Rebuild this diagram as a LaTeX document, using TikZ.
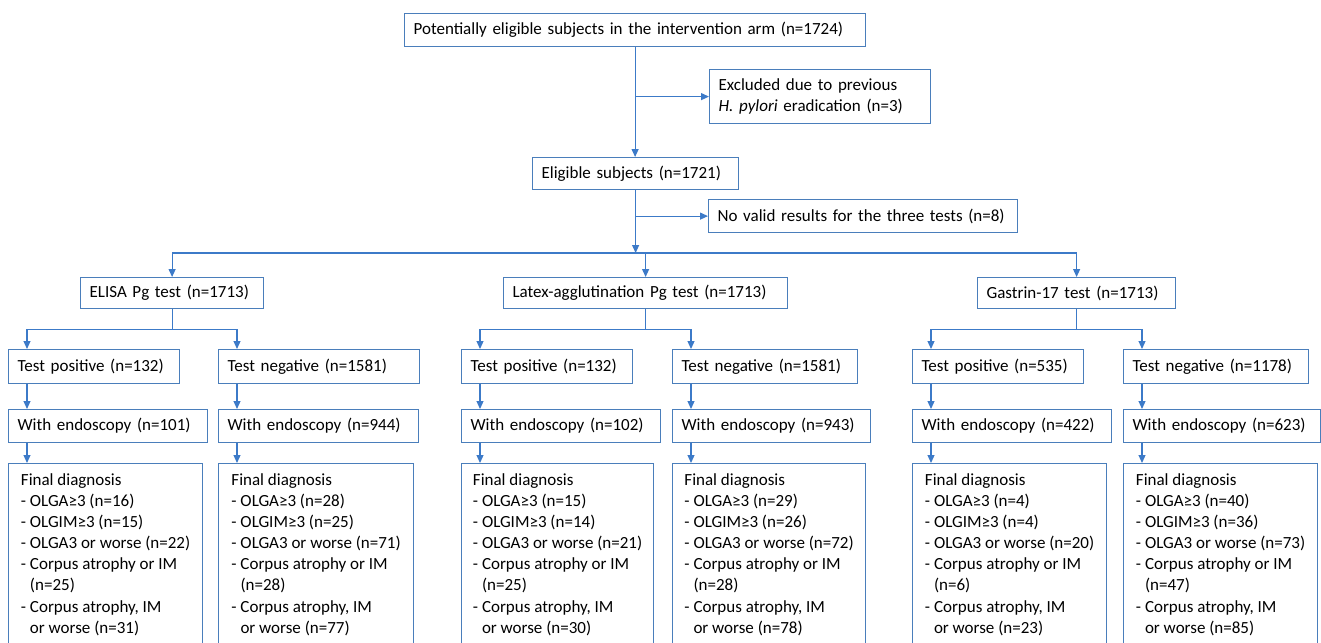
\documentclass[tikz,border=0pt]{standalone}
\usepackage{fontspec}
\setmainfont{Carlito}
\usetikzlibrary{arrows.meta}
\definecolor{boxcol}{RGB}{74,126,187}
\definecolor{linecol}{RGB}{60,122,200}
% text of the final diagnosis boxes
\newcommand{\finaldiag}[5]{Final diagnosis\\- OLGA≥3 (n=#1)\\- OLGIM≥3 (n=#2)\\- OLGA3 or worse (n=#3)\\- Corpus atrophy or IM\\\hphantom{- }(n=#4)\\- Corpus atrophy, IM\\\hphantom{- }or worse (n=#5)}
\begin{document}
\begin{tikzpicture}[x=1pt, y=-1pt,
  frame/.style={draw=boxcol, line width=1.2pt, anchor=north west, align=left,
    font=\fontsize{17}{21.1}\selectfont},
  box/.style={frame, inner xsep=9pt, inner ysep=0pt, text width=#1},
  dxbox/.style={frame, inner xsep=0pt, inner ysep=10pt, minimum width=#1},
  line/.style={draw=linecol, line width=1.2pt},
  arrow/.style={line, -{Triangle[length=8pt,width=7pt]}},
]
  \useasboundingbox (0,0) rectangle (1321,642);
  \clip (0,0) rectangle (1321,642);

  % enrolment
  \node[box=443pt, minimum height=33pt] (top) at (404,13) {Potentially eligible subjects in the intervention arm (n=1724)};
  \node[box=203pt, minimum height=54pt] (excl) at (709,69) {Excluded due to previous\\\textit{H. pylori} eradication (n=3)};
  \node[box=188pt, minimum height=32pt] (elig) at (532,157) {Eligible subjects (n=1721)};
  \node[box=291pt, minimum height=33pt] (novalid) at (708,199) {No valid results for the three tests (n=8)};

  % the three tests
  \node[box=165pt, minimum height=31pt] (elisa) at (80,277) {ELISA Pg test (n=1713)};
  \node[box=266pt, minimum height=31pt] (latex) at (503,277) {Latex-agglutination Pg test (n=1713)};
  \node[box=180pt, minimum height=31pt] (gastrin) at (977,277) {Gastrin-17 test (n=1713)};

  % ELISA column
  \node[box=153pt, minimum height=34pt] (elisaPos) at (8,349) {Test positive (n=132)};
  \node[box=183pt, minimum height=34pt] (elisaNeg) at (218,349) {Test negative (n=1581)};
  \node[box=181pt, minimum height=33pt] (elisaPos-endo) at (8,409) {With endoscopy (n=101)};
  \node[box=182pt, minimum height=33pt] (elisaNeg-endo) at (218,409) {With endoscopy (n=944)};
  \node[dxbox=194pt] (elisaPos-dx) at (8,463) {\finaldiag{16}{15}{22}{25}{31}};
  \node[dxbox=195pt] (elisaNeg-dx) at (218,463) {\finaldiag{28}{25}{71}{28}{77}};

  % latex-agglutination column
  \node[box=153pt, minimum height=34pt] (latexPos) at (461,349) {Test positive (n=132)};
  \node[box=167pt, minimum height=34pt] (latexNeg) at (672,349) {Test negative (n=1581)};
  \node[box=181pt, minimum height=33pt] (latexPos-endo) at (461,409) {With endoscopy (n=102)};
  \node[box=180pt, minimum height=33pt] (latexNeg-endo) at (672,409) {With endoscopy (n=943)};
  \node[dxbox=192pt] (latexPos-dx) at (461,463) {\finaldiag{15}{14}{21}{25}{30}};
  \node[dxbox=193pt] (latexNeg-dx) at (672,463) {\finaldiag{29}{26}{72}{28}{78}};

  % gastrin-17 column
  \node[box=153pt, minimum height=34pt] (gastrinPos) at (912,349) {Test positive (n=535)};
  \node[box=167pt, minimum height=34pt] (gastrinNeg) at (1123,349) {Test negative (n=1178)};
  \node[box=181pt, minimum height=33pt] (gastrinPos-endo) at (912,409) {With endoscopy (n=422)};
  \node[box=179pt, minimum height=33pt] (gastrinNeg-endo) at (1123,409) {With endoscopy (n=623)};
  \node[dxbox=194pt] (gastrinPos-dx) at (912,463) {\finaldiag{4}{4}{20}{6}{23}};
  \node[dxbox=194pt] (gastrinNeg-dx) at (1123,463) {\finaldiag{40}{36}{73}{47}{85}};

  % connectors
  \coordinate (bus) at (0,253);
  \draw[arrow] (top.south) -- (top.south |- elig.north);
  \draw[arrow] (top.south |- excl.west) -- (excl.west);
  \draw[arrow] (elig.south) -- (elig.south |- bus);
  \draw[arrow] (elig.south |- novalid.west) -- (novalid.west);
  \draw[line] (elisa.north |- bus) -- (gastrin.north |- bus);
  \foreach \t in {elisa,latex,gastrin} {
    \draw[arrow] (\t.north |- bus) -- (\t.north);
    \coordinate (\t-fork) at ([yshift=-20pt]\t.south);
    \draw[line] (\t.south) -- (\t-fork);
    \foreach \s in {Pos,Neg} {
      \coordinate (\t\s-a) at ([xshift=19pt]\t\s.north west);
      \draw[arrow] (\t\s-a |- \t-fork) -- (\t\s-a);
      \draw[arrow] (\t\s-a |- \t\s.south) -- (\t\s-a |- \t\s-endo.north);
      \draw[arrow] (\t\s-a |- \t\s-endo.south) -- (\t\s-a |- \t\s-dx.north);
    }
    \draw[line] (\t Pos-a |- \t-fork) -- (\t Neg-a |- \t-fork);
  }
\end{tikzpicture}
\end{document}
